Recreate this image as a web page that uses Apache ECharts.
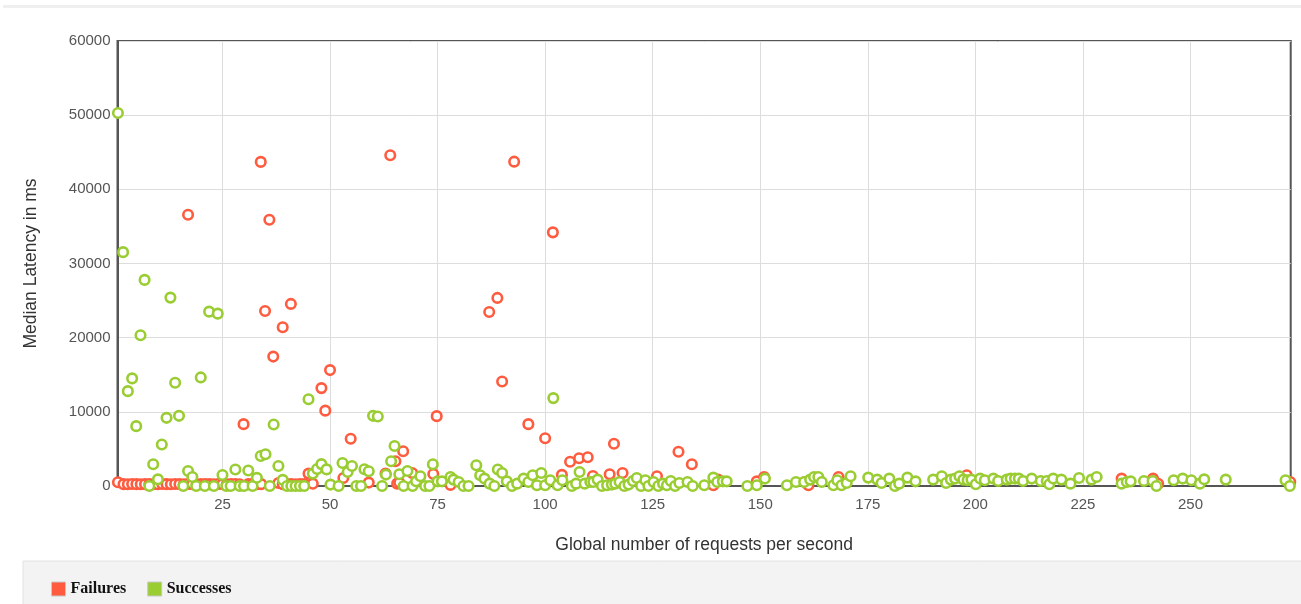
<!DOCTYPE html>
<html>
<head>
<meta charset="utf-8">
<script src="https://cdn.jsdelivr.net/npm/echarts@6/dist/echarts.min.js"></script>
<style>
html,body{margin:0;padding:0;background:#fff;}
#chart{width:1301px;height:604px;}
</style>
</head>
<body>
<div id="chart"></div>
<script>
const xTickValues = [25, 50, 75, 100, 125, 150, 175, 200, 225, 250];
const yTickValues = [0, 10000, 20000, 30000, 40000, 50000, 60000];
const seriesNames = ['Failures', 'Successes'];

const failures = [
  [0.7,500],
  [2,250],[3,240],[4,260],[5,250],[6,230],[7,250],[8,260],[9,240],[10,250],[11,270],[12,250],[13,240],
  [14,260],[15,250],[16,230],[17,260],[18,250],[19,240],[20,250],[21,270],[22,250],[23,240],[24,260],
  [25,250],[26,230],[27,250],[28,260],[29,240],[31,250],[32,260],[33,240],[34,250],
  [38,400],[39,250],[40,260],[41,250],[42,240],[43,250],[44,260],[45,1670],[46,300],
  [17,36570],[33.9,43700],[34.9,23600],[35.9,35900],[36.8,17450],[39,21400],[40.9,24550],[29.9,8340],
  [48,13200],[48.9,10160],[50,15630],[54.8,6380],[53.1,1080],[59,460],[62.9,1670],[64,44600],[65.2,3340],
  [65.6,320],[66.1,460],[67,4690],[69.1,1760],[74,1620],[74.8,9420],[78,150],[87,23460],[88.9,25360],
  [90,14080],[92.8,43730],[96.1,8340],[100,6440],[101.8,34200],[103.9,1500],[105.8,3270],[107.9,3740],
  [109.9,3880],[111.1,1350],[115,1580],[116,5700],[118,1760],[126,1310],[131,4620],[134.1,2930],
  [139.1,100],[140.2,860],[149.2,630],[150.9,1220],[160.4,540],[161.2,100],[168.2,1220],[198,1450],
  [234,1000],[241.3,1000],[242.5,300],[273.2,540]
];

const successes = [
  [0.7,50300],[1.9,31530],[3,12790],[4,14510],[4.95,8070],[5.95,20320],[6.9,27790],[8,0],[8.9,2930],
  [10,900],[10.9,5590],[12,9190],[12.9,25400],[14,13920],[14.9,9460],[15.9,0],[17,2030],[18,1220],
  [18.9,0],[19.95,14640],[20.9,0],[21.9,23510],[23,0],[23.9,23240],[25,1490],[25.9,0],[26.9,0],[28,2220],
  [29,0],[30,0],[31,2100],[32,0],[33,1100],[33.9,4050],[35,4280],[36,0],[36.9,8290],[38,2700],[39,830],
  [40,0],[41,0],[42,0],[43,0],[44,0],[45,11700],[46,1670],[47,2300],[48,2950],[49.2,2240],
  [50.1,190],[52,0],[52.9,3110],[54.1,1890],[55.1,2700],[56.1,0],[57.2,0],[58,2260],[59,1990],[60,9460],
  [61.1,9380],[62.1,0],[63,1540],[64.2,3340],[65,5400],[66.1,1580],[67.1,0],[68,2030],[69.2,0],[70,630],
  [71,1310],[72.1,0],[73.1,0],[73.9,2930],[75,630],[76,630],[78,1220],[78.7,860],[79.9,540],[81,0],
  [82.2,0],[84,2800],[84.9,1450],[85.9,1000],[87.1,320],[88.2,0],[89,2220],[90,1760],[91.1,630],[92.3,0],
  [93.5,320],[95,1000],[96.1,540],[97.1,1450],[98.1,100],[99.1,1760],[100,100],[101.2,770],[101.9,11850],
  [102.9,100],[104,770],[106.2,0],[107.2,320],[108,1890],[109.2,320],[110.5,540],[111.2,540],[112.2,860],
  [113.2,0],[114.4,100],[115.5,190],[116.3,320],[117.3,540],[118.4,0],[119.4,190],[120.4,680],[121.3,1080],
  [122.3,0],[123.3,770],[124,0],[125.2,540],[126.3,0],[127.4,320],[128.3,100],[129.2,680],[130.2,0],
  [131.2,400],[133.1,540],[134.3,0],[137,100],[139.1,1130],[140,540],[141.3,630],[142.2,630],[147,0],
  [149.2,100],[151.1,1000],[156.2,100],[158.3,540],
  [160.2,540],[161.6,860],[162.5,1220],[163.5,1220],[164.3,540],[167,100],[167.9,770],[168.9,100],
  [170.1,400],[171,1310],[175.1,1130],[177.2,860],[178.2,400],[180,1000],[181.3,0],[182.3,320],[184.2,1130],
  [186.1,630],[190.2,860],[192.2,1310],[193.2,400],[194.3,860],[195.3,1000],[196.3,1310],[197.2,860],
  [198.2,770],[199.1,860],[200.1,230],[201.1,1000],[202.2,770],[204.2,1000],[205.3,680],[207.3,860],
  [208.2,1000],[209.2,1000],[210.1,1000],[211.1,680],[213.1,1000],[215.2,680],[216.6,680],
  [217.2,230],[218.1,1000],[220,860],[222.1,320],[224.1,1080],[227,860],[228.2,1220],[234,320],[235.2,540],
  [236.1,630],[239.2,680],[241.2,680],[242.1,0],[246.1,770],[248.2,1000],[250.2,770],[252.2,320],[253.2,900],
  [258.2,860],[272.1,770],[273.1,0]
];

const RED = '#ff5b3f';
const GREEN = '#9acd32';

const chart = echarts.init(document.getElementById('chart'), null, {renderer: 'canvas'});
chart.setOption({
  animation: false,
  backgroundColor: '#ffffff',
  graphic: [
    {type: 'rect', z: 0, shape: {x: 3, y: 5, width: 1298, height: 3}, style: {fill: '#efefef'}},
    {type: 'rect', z: 0, shape: {x: 23, y: 561, width: 1290, height: 50}, style: {fill: '#f3f3f3', stroke: '#e2e2e2', lineWidth: 1}}
  ],
  grid: {
    left: 117.5, top: 41, right: 10.3, bottom: 118,
    show: true, borderColor: '#555', borderWidth: 2, backgroundColor: 'transparent'
  },
  legend: {
    left: 51, top: 581, padding: 0,
    itemWidth: 14, itemHeight: 14, itemGap: 21,
    icon: 'rect',
    textStyle: {fontFamily: '"Liberation Serif", "DejaVu Serif", serif', fontWeight: 'bold', fontSize: 16, color: '#111'},
    data: [
      {name: seriesNames[0], itemStyle: {color: RED, borderColor: '#c8c8c8', borderWidth: 1, opacity: 1}},
      {name: seriesNames[1], itemStyle: {color: GREEN, borderColor: '#c8c8c8', borderWidth: 1, opacity: 1}}
    ]
  },
  xAxis: {
    type: 'value', min: 0.6, max: 273.3,
    name: 'Global number of requests per second',
    nameLocation: 'middle', nameGap: 50,
    nameTextStyle: {fontFamily: '"Liberation Sans", Arial, sans-serif', fontSize: 17.5, color: '#333'},
    axisLine: {show: true, lineStyle: {color: '#555', width: 2}},
    axisTick: {show: false, customValues: xTickValues},
    axisLabel: {customValues: xTickValues, fontFamily: '"Liberation Sans", Arial, sans-serif', fontSize: 15, color: '#555', margin: 11},
    splitLine: {show: true, lineStyle: {color: '#dddddd', width: 1}}
  },
  yAxis: {
    type: 'value', min: 0, max: 60000, interval: 10000,
    name: 'Median Latency in ms',
    nameLocation: 'middle', nameGap: 77,
    nameTextStyle: {fontFamily: '"Liberation Sans", Arial, sans-serif', fontSize: 17.5, color: '#333'},
    axisLine: {show: true, lineStyle: {color: '#555', width: 2}},
    axisTick: {show: false},
    axisLabel: {formatter: function (v) { return String(v); }, fontFamily: '"Liberation Sans", Arial, sans-serif', fontSize: 15, color: '#555', margin: 7},
    splitLine: {show: true, lineStyle: {color: '#dddddd', width: 1}}
  },
  series: [
    {
      name: seriesNames[0], type: 'scatter', data: failures,
      symbol: 'circle', symbolSize: 9.5,
      itemStyle: {color: '#ffffff', borderColor: RED, borderWidth: 2.6, opacity: 1},
      emphasis: {disabled: true}
    },
    {
      name: seriesNames[1], type: 'scatter', data: successes,
      symbol: 'circle', symbolSize: 9.5,
      itemStyle: {color: '#ffffff', borderColor: GREEN, borderWidth: 2.6, opacity: 1},
      emphasis: {disabled: true}
    }
  ]
});
</script>
</body>
</html>
